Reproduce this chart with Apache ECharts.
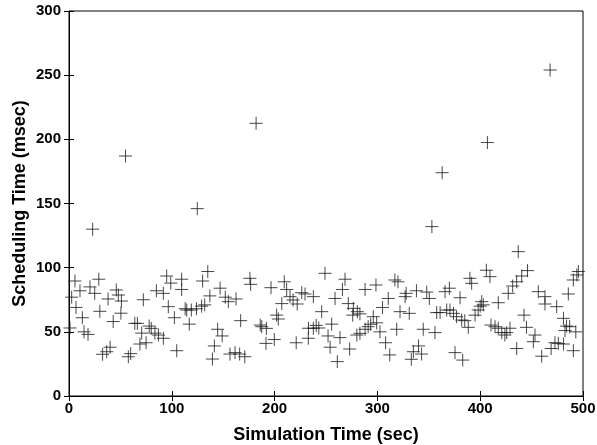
<!DOCTYPE html>
<html>
<head>
<meta charset="utf-8">
<script src="https://cdn.jsdelivr.net/npm/echarts@6/dist/echarts.min.js"></script>
<style>
  html, body { margin: 0; padding: 0; background: #fff; }
  #main { width: 597px; height: 445px; }
</style>
</head>
<body>
<div id="main"></div>
<script>
// 坐标轴刻度
var xTicks = [0, 100, 200, 300, 400, 500];
var yTicks = [0, 50, 100, 150, 200, 250, 300];

// 每个点: [仿真时间 sec, 调度时间 msec]
var schedPoints = [
  [1,53],[2.6,77],[5.8,89.6],[6.8,69],[10.7,82],[13,61],[14.6,50],[18.5,48],[20.4,85],[23,130],
  [25,80],[29,91],[30,66],[32.7,32.5],[36.7,34.5],[38,75.6],[40,38],[43,58],[46,82.6],[48,78.7],
  [50.5,64.5],[51,74],[55,187],[57.7,30.6],[60,33],[64,56.6],[66.5,56.6],[69,40.5],[70.7,49],[72.3,75],
  [75,41.5],[78,54.5],[80,52.7],[83.6,49],[85,82],[87,47.5],[91.8,45],[91.8,80],[95,93.5],[96.6,69.6],
  [99,88],[102.5,61],[104.8,35.3],[109.6,91],[109.6,83],[113,68],[114.5,67],[117,56],
  [119,67],[124,68],[124.8,146],[129,70],[130,89.6],[132,71],[135,97],[137,78],[139.5,28.8],[141.4,39],
  [144.6,52],[147,84],[149,46.8],[152,77],[155,73.5],[156.6,32.7],[161.5,33.8],[162.5,75.6],[166,32.7],[167,58.7],
  [171,30.6],[176,91.7],[176.7,87],[182,212.5],[186,55.3],[187.5,54],[191.6,41],[192,52.7],[196.5,84.4],[199.7,44],
  [202,63],[203.6,60],[207,72],[209.4,89],[211.7,83],[215,77.4],[218,74.8],[221,41.5],[222,71.7],[226.4,80.5],
  [229.6,79.5],[233,52.8],[232.8,45],
  [237.7,77.4],[237.7,52.8],[240.5,55],[243,53],[245.8,65.7],[249,95.6],[252,46.8],[254,38],[255.5,56],[258.8,76],
  [261,26.8],[263.6,45.5],[266,83],[268.5,91],[271.7,72],[273,36.6],[276,63],[276.6,68.3],[280,47.5],[280.5,65.7],
  [283,64],[283,48.8],[288,83],[288,52],[291,54],[293.5,55.9],[296,61.8],[298.6,86.5],[299.3,57],[302.5,50],
  [305,69],[308,41.5],[310.6,76],[312,32],[317,90.4],[318.8,52],[320,89],[322,65.7],[327,77.4],[328,80],
  [331,64.4],[333,28.6],[335,34.5],[338,82],[340,39],[343,32.7],[344.6,52],[348,81],[350.5,76],[353,132],
  [356,49.4],[357.7,65],[361,65],[363,174],[365.8,81.3],[367.4,67],[370,84],[370.6,67],[374,64.4],[375.5,33.8],
  [377,61.8],[380.4,76.6],[382,59.2],[383,28],[385,58.7],[388.4,53.5],[390,91.7],[391.7,87.8],[395,63],[398,67],
  [400,70],[401.5,73.5],[403,71],[406,98],[407,197.5],[409.5,93],[410.5,55.3],[414.4,54],[417.6,52.8],[417.6,72.7],
  [421,49.4],[424,47.5],[425.8,49.4],[427.3,80],[429,52.8],[431.6,85.7],[435.5,89],[435.5,37],[437,112.5],[440.4,93.5],
  [442.6,63],[445,53.5],[446,97.7],[451.7,42.3],[453.3,47.5],[456.5,81.3],[459.8,31],[463,77.4],[463,71.7],[468,254],
  [469,37],[472.7,41.5],[474.4,69.6],[476,41],[481,40.5],[481,60.5],[482.5,51],[484,54.5],[485.7,79.5],[487,54],
  [490.6,90.4],[490.6,35.3],[493,50],[494,94.3],[495.5,97]
];

var labelFont = { fontFamily: 'Liberation Sans', fontWeight: 'bold', fontSize: 15, color: '#000' };
var titleFont = { fontFamily: 'Liberation Sans', fontWeight: 'bold', fontSize: 18, color: '#000' };

var myChart = echarts.init(document.getElementById('main'));

var option = {
  animation: false,
  backgroundColor: '#fff',
  grid: {
    left: 69, right: 14, top: 11, bottom: 49,
    containLabel: false, outerBoundsMode: 'none',
    show: true, borderColor: '#000', borderWidth: 1
  },
  xAxis: [
    {
      type: 'value', min: 0, max: 500, interval: 100,
      name: 'Simulation Time (sec)', nameLocation: 'middle', nameGap: 30,
      nameTextStyle: titleFont,
      axisLine: { lineStyle: { color: '#000' } },
      axisTick: { inside: true, length: 5, lineStyle: { color: '#000' } },
      axisLabel: Object.assign({ margin: 5 }, labelFont),
      splitLine: { show: false }
    },
    {
      type: 'value', min: 0, max: 500, interval: 100, position: 'top',
      axisLine: { lineStyle: { color: '#000' } },
      axisTick: { inside: true, length: 5, lineStyle: { color: '#000' } },
      axisLabel: { show: false }, splitLine: { show: false }
    }
  ],
  yAxis: [
    {
      type: 'value', min: 0, max: 300, interval: 50,
      name: 'Scheduling Time (msec)', nameLocation: 'middle', nameGap: 40,
      nameMoveOverlap: false,
      nameTextStyle: titleFont,
      axisLine: { show: true, lineStyle: { color: '#000' } },
      axisTick: { show: true, inside: true, length: 5, lineStyle: { color: '#000' } },
      axisLabel: Object.assign({ margin: 8 }, labelFont),
      splitLine: { show: false }
    },
    {
      type: 'value', min: 0, max: 300, interval: 50, position: 'right',
      axisLine: { show: true, lineStyle: { color: '#000' } },
      axisTick: { show: true, inside: true, length: 5, lineStyle: { color: '#000' } },
      axisLabel: { show: false }, splitLine: { show: false }
    }
  ],
  series: [
    {
      type: 'scatter',
      data: schedPoints,
      symbol: 'path://M0,6L12,6M6,0L6,12',
      symbolSize: 13,
      itemStyle: { color: 'none', borderColor: '#1a1a1a', borderWidth: 1 }
    }
  ]
};

myChart.setOption(option);
</script>
</body>
</html>
